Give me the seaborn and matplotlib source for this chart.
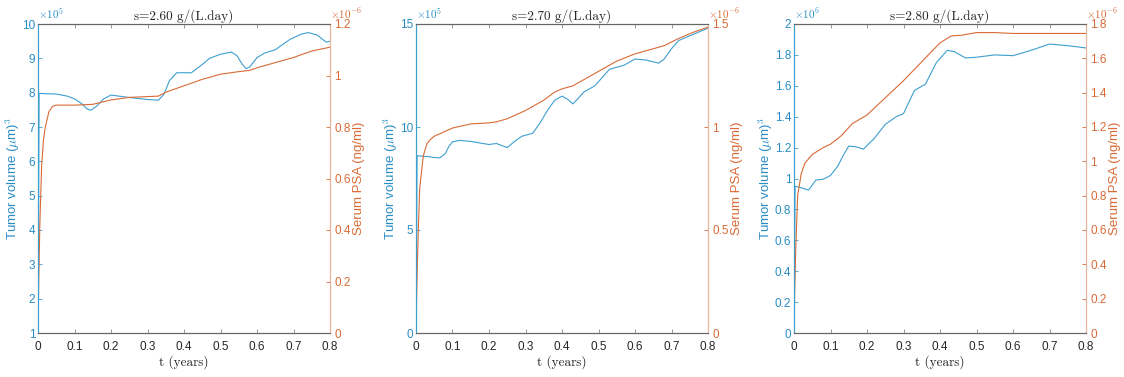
import matplotlib
matplotlib.use("Agg")
import matplotlib.pyplot as plt
import seaborn as sns
import numpy as np
import pandas as pd

sns.set_theme(style="white")
plt.rcParams['font.family'] = ['Liberation Sans', 'DejaVu Sans']
plt.rcParams['mathtext.fontset'] = 'cm'
plt.rcParams['axes.unicode_minus'] = False

# ---------------- data ----------------
titles = ["s=2.60 g/(L.day)", "s=2.70 g/(L.day)", "s=2.80 g/(L.day)"]

# Panel 1 (tumor x1e5, PSA x1e-6)
t1_tumor = [0, 0.003, 0.02, 0.05, 0.08, 0.1, 0.12, 0.135, 0.145, 0.16, 0.18, 0.2, 0.25, 0.3, 0.33, 0.345,
            0.36, 0.38, 0.42, 0.45, 0.47, 0.5, 0.53, 0.545, 0.56, 0.57, 0.58, 0.6, 0.62, 0.65, 0.69,
            0.72, 0.74, 0.765, 0.78, 0.79, 0.8]
v1_tumor = [1.0, 7.98, 7.97, 7.96, 7.9, 7.82, 7.68, 7.52, 7.49, 7.6, 7.82, 7.93, 7.86, 7.8, 7.78, 7.95,
            8.35, 8.58, 8.58, 8.82, 9.0, 9.12, 9.18, 9.08, 8.82, 8.7, 8.75, 9.02, 9.15, 9.25, 9.55,
            9.7, 9.75, 9.68, 9.55, 9.47, 9.5]
t1_psa = [0, 0.002, 0.005, 0.01, 0.015, 0.02, 0.03, 0.04, 0.05, 0.1, 0.15, 0.2, 0.25, 0.3, 0.33,
          0.35, 0.4, 0.45, 0.5, 0.55, 0.58, 0.6, 0.65, 0.7, 0.75, 0.8]
v1_psa = [0, 0.2, 0.42, 0.65, 0.75, 0.8, 0.86, 0.88, 0.885, 0.885, 0.888, 0.905, 0.915, 0.918, 0.92,
          0.935, 0.96, 0.985, 1.005, 1.015, 1.02, 1.03, 1.05, 1.07, 1.095, 1.11]

# Panel 2 (tumor x1e5, PSA x1e-6)
t2_tumor = [0, 0.003, 0.03, 0.05, 0.065, 0.08, 0.09, 0.1, 0.12, 0.15, 0.2, 0.22, 0.25, 0.27, 0.29, 0.32,
            0.34, 0.36, 0.38, 0.4, 0.415, 0.43, 0.45, 0.46, 0.49, 0.51, 0.53, 0.57, 0.6, 0.63, 0.665,
            0.68, 0.7, 0.72, 0.76, 0.8]
v2_tumor = [0, 8.6, 8.57, 8.52, 8.5, 8.7, 9.05, 9.28, 9.35, 9.3, 9.15, 9.2, 9.0, 9.3, 9.55, 9.7,
            10.2, 10.8, 11.3, 11.5, 11.35, 11.12, 11.5, 11.7, 12.0, 12.4, 12.8, 13.0, 13.3, 13.25, 13.1,
            13.3, 13.8, 14.2, 14.5, 14.8]
t2_psa = [0, 0.002, 0.005, 0.01, 0.02, 0.03, 0.04, 0.05, 0.1, 0.15, 0.2, 0.22, 0.25, 0.3, 0.35,
          0.38, 0.4, 0.43, 0.46, 0.5, 0.55, 0.6, 0.65, 0.68, 0.72, 0.76, 0.8]
v2_psa = [0, 0.2, 0.42, 0.7, 0.86, 0.92, 0.94, 0.955, 0.995, 1.015, 1.02, 1.025, 1.04, 1.08, 1.13,
          1.17, 1.185, 1.2, 1.23, 1.27, 1.32, 1.355, 1.38, 1.395, 1.43, 1.46, 1.485]

# Panel 3 (tumor x1e6, PSA x1e-6)
t3_tumor = [0, 0.003, 0.02, 0.04, 0.06, 0.08, 0.1, 0.12, 0.135, 0.15, 0.17, 0.19, 0.22, 0.25, 0.28,
            0.3, 0.31, 0.33, 0.36, 0.39, 0.42, 0.44, 0.47, 0.5, 0.55, 0.6, 0.65, 0.7, 0.75, 0.8]
v3_tumor = [0, 0.95, 0.94, 0.925, 0.99, 0.995, 1.02, 1.08, 1.15, 1.21, 1.205, 1.19, 1.26, 1.35, 1.4,
            1.42, 1.47, 1.57, 1.61, 1.75, 1.83, 1.82, 1.78, 1.785, 1.8, 1.795, 1.83, 1.87, 1.86, 1.845]
t3_psa = [0, 0.002, 0.005, 0.01, 0.02, 0.03, 0.05, 0.08, 0.1, 0.13, 0.16, 0.2, 0.25, 0.3, 0.35,
          0.4, 0.43, 0.46, 0.5, 0.55, 0.6, 0.7, 0.8]
v3_psa = [0, 0.25, 0.5, 0.8, 0.93, 0.99, 1.04, 1.08, 1.1, 1.15, 1.22, 1.27, 1.37, 1.47, 1.58,
          1.69, 1.73, 1.735, 1.75, 1.75, 1.745, 1.745, 1.745]

xticks = [0, 0.1, 0.2, 0.3, 0.4, 0.5, 0.6, 0.7, 0.8]
left_ticks = [[1, 2, 3, 4, 5, 6, 7, 8, 9, 10], [0, 5, 10, 15],
              [0, 0.2, 0.4, 0.6, 0.8, 1, 1.2, 1.4, 1.6, 1.8, 2]]
right_ticks = [[0, 0.2, 0.4, 0.6, 0.8, 1, 1.2], [0, 0.5, 1, 1.5],
               [0, 0.2, 0.4, 0.6, 0.8, 1, 1.2, 1.4, 1.6, 1.8]]
left_exp = [r"$\times10^{5}$", r"$\times10^{5}$", r"$\times10^{6}$"]
right_exp = r"$\times10^{-6}$"

tumor_t = [t1_tumor, t2_tumor, t3_tumor]
tumor_v = [v1_tumor, v2_tumor, v3_tumor]
psa_t = [t1_psa, t2_psa, t3_psa]
psa_v = [v1_psa, v2_psa, v3_psa]

BLUE = "#3d9fcf"
BLUE_TXT = "#2a8cc4"
ORANGE = "#d96a35"
ORANGE_SP = "#eab49a"
GREY = "#262626"

def fmt(v):
    return f"{v:g}"

fig = plt.figure(figsize=(11.24, 3.77), dpi=100)
lefts = [38 / 1124, 416 / 1124, 794 / 1124]
width = 292 / 1124
bottom = 1 - 333 / 377
height = (333 - 24) / 377

for i in range(3):
    ax = fig.add_axes([lefts[i], bottom, width, height])
    ax2 = ax.twinx()
    df1 = pd.DataFrame({"t": tumor_t[i], "v": tumor_v[i]})
    df2 = pd.DataFrame({"t": psa_t[i], "v": psa_v[i]})
    sns.lineplot(data=df1, x="t", y="v", ax=ax, color=BLUE, linewidth=0.8, estimator=None, sort=False)
    sns.lineplot(data=df2, x="t", y="v", ax=ax2, color=ORANGE, linewidth=0.8, estimator=None, sort=False)

    ax.set_xlim(0, 0.8)
    ax.set_ylim(left_ticks[i][0], left_ticks[i][-1])
    ax2.set_ylim(right_ticks[i][0], right_ticks[i][-1])
    ax.set_xticks(xticks)
    ax.set_xticklabels([fmt(x) for x in xticks], color=GREY, fontsize=8.5)
    ax.set_yticks(left_ticks[i])
    ax.set_yticklabels([fmt(y) for y in left_ticks[i]], color=BLUE_TXT, fontsize=8.5)
    ax2.set_yticks(right_ticks[i])
    ax2.set_yticklabels([fmt(y) for y in right_ticks[i]], color=ORANGE, fontsize=8.5)

    ax.tick_params(axis='x', direction='in', length=3, width=0.6, color='#888888', top=True, bottom=True, pad=6)
    ax.tick_params(axis='y', direction='in', length=3, width=0.6, color=BLUE, left=True, right=False, pad=2)
    ax2.tick_params(axis='y', direction='in', length=3, width=0.6, color=ORANGE, left=False, right=True, pad=3)

    for a in (ax, ax2):
        a.spines['top'].set_color('#666666')
        a.spines['bottom'].set_color('#666666')
        a.spines['left'].set_color(BLUE)
        a.spines['right'].set_color(ORANGE_SP)
        for s in a.spines.values():
            s.set_linewidth(0.8)

    ax.set_xlabel("t (years)", fontsize=9.5, color=GREY, labelpad=1, family='cmr10')
    ax.set_ylabel(r"Tumor volume ($\mu$m)$^3$", fontsize=9.5, color=BLUE_TXT, labelpad=0)
    ax2.set_ylabel("Serum PSA (ng/ml)", fontsize=9.5, color=ORANGE, labelpad=2)
    ax.set_title(titles[i], fontsize=9.5, color=GREY, pad=3, family='cmr10')

    ax.text(0.0, 1.01, left_exp[i], transform=ax.transAxes, color=BLUE_TXT,
            fontsize=8, ha='left', va='bottom', family='DejaVu Sans')
    ax2.text(1.0, 1.01, right_exp, transform=ax2.transAxes, color=ORANGE,
             fontsize=8, ha='left', va='bottom', family='DejaVu Sans')

fig.savefig("out.png", dpi=100, facecolor="white")
